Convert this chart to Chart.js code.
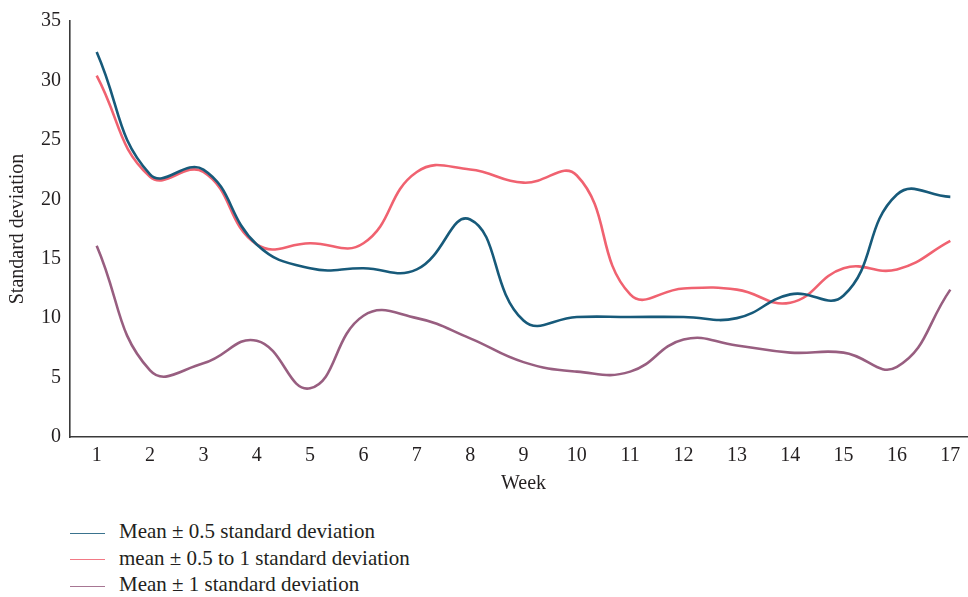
<!DOCTYPE html>
<html>
<head>
<meta charset="utf-8">
<title>Standard deviation by week</title>
<script src="https://cdn.jsdelivr.net/npm/chart.js@4.4.1/dist/chart.umd.min.js"></script>
<style>
    html, body {
        margin: 0;
        padding: 0;
        background: #ffffff;
        overflow: hidden;
        width: 968px;
        height: 597px;
    }
    #wrap {
        position: relative;
        width: 977px;
        height: 499px;
    }
    #legend {
        position: absolute;
        left: 70px;
        top: 518px;
        margin: 0;
        padding: 0;
        list-style: none;
        font-family: "Liberation Serif", "DejaVu Serif", serif;
        font-size: 21px;
        color: #231f20;
    }
    #legend li {
        height: 26.7px;
        line-height: 26.7px;
        white-space: nowrap;
    }
    #legend .swatch {
        display: inline-block;
        width: 35px;
        height: 0;
        border-top: 1.5px solid;
        vertical-align: middle;
        margin-right: 14px;
        opacity: 0.85;
    }
</style>
</head>
<body>
<div id="wrap">
    <canvas id="sdChart" width="977" height="499"></canvas>
</div>
<ul id="legend"></ul>

<script>
// Data
const weeks = ['1', '2', '3', '4', '5', '6', '7', '8', '9', '10', '11', '12', '13', '14', '15', '16', '17'];

const halfSdValues = [32.4, 22.1, 22.5, 16.2, 14.2, 14.2, 14.1, 18.3, 9.8, 10.1, 10.1, 10.1, 10.0, 12.0, 11.9, 20.4, 20.2];
const halfToOneSdValues = [30.4, 21.9, 22.3, 16.2, 16.3, 16.3, 22.3, 22.5, 21.4, 22.0, 12.0, 12.5, 12.4, 11.3, 14.2, 14.1, 16.5];
const oneSdValues = [16.1, 5.6, 6.2, 8.1, 4.1, 10.2, 10.0, 8.3, 6.3, 5.5, 5.5, 8.2, 7.7, 7.1, 7.1, 5.9, 12.4];

const seriesLabels = ['Mean \u00b1 0.5 standard deviation', 'mean \u00b1 0.5 to 1 standard deviation', 'Mean \u00b1 1 standard deviation'];
const seriesColors = ['rgb(23, 90, 122)', 'rgb(240, 98, 112)', 'rgb(152, 94, 128)'];

const yTicks = [0, 5, 10, 15, 20, 25, 30, 35];

const TEXT_COLOR = '#231f20';
const AXIS_COLOR = '#3a3a3a';
const FONT_FAMILY = '"Liberation Serif", "DejaVu Serif", serif';

function makeDataset(label, data, color) {
    return {
        label: label,
        data: data,
        borderColor: color,
        backgroundColor: color,
        borderWidth: 2.6,
        pointRadius: 0,
        pointHoverRadius: 0,
        tension: 0.45,
        fill: false
    };
}

const ctx = document.getElementById('sdChart').getContext('2d');
const config = {
    type: 'line',
    data: {
        labels: weeks,
        datasets: [
            makeDataset(seriesLabels[0], halfSdValues, seriesColors[0]),
            makeDataset(seriesLabels[1], halfToOneSdValues, seriesColors[1]),
            makeDataset(seriesLabels[2], oneSdValues, seriesColors[2])
        ]
    },
    options: {
        responsive: false,
        animation: false,
        layout: {
            padding: { top: 17, right: 0, bottom: 0, left: 0 }
        },
        scales: {
            x: {
                offset: true,
                grid: {
                    display: false,
                    drawTicks: false
                },
                border: {
                    display: true,
                    color: AXIS_COLOR,
                    width: 1.6
                },
                ticks: {
                    color: TEXT_COLOR,
                    padding: 7,
                    maxRotation: 0,
                    autoSkip: false,
                    font: { family: FONT_FAMILY, size: 20 }
                },
                title: {
                    display: true,
                    text: 'Week',
                    color: TEXT_COLOR,
                    padding: { top: 0, bottom: 3 },
                    font: { family: FONT_FAMILY, size: 20 }
                },
                afterFit: function(scale) {
                    scale.height = 62;
                }
            },
            y: {
                min: 0,
                max: 35,
                afterBuildTicks: function(scale) {
                    scale.ticks = yTicks.map(v => ({ value: v }));
                },
                grid: {
                    display: false,
                    drawTicks: false
                },
                border: {
                    display: true,
                    color: AXIS_COLOR,
                    width: 1.6
                },
                ticks: {
                    color: TEXT_COLOR,
                    padding: 9,
                    font: { family: FONT_FAMILY, size: 20 }
                },
                title: {
                    display: true,
                    text: 'Standard deviation',
                    color: TEXT_COLOR,
                    padding: { top: 6, bottom: 0 },
                    font: { family: FONT_FAMILY, size: 20 }
                },
                afterFit: function(scale) {
                    scale.width = 70;
                }
            }
        },
        plugins: {
            legend: { display: false },
            tooltip: { enabled: false }
        }
    }
};

const sdChart = new Chart(ctx, config);

// HTML legend in a single column, built from the chart's datasets
const legendEl = document.getElementById('legend');
sdChart.data.datasets.forEach(function(ds) {
    const li = document.createElement('li');
    const swatch = document.createElement('span');
    swatch.className = 'swatch';
    swatch.style.borderTopColor = ds.borderColor;
    li.appendChild(swatch);
    li.appendChild(document.createTextNode(ds.label));
    legendEl.appendChild(li);
});
</script>
</body>
</html>
